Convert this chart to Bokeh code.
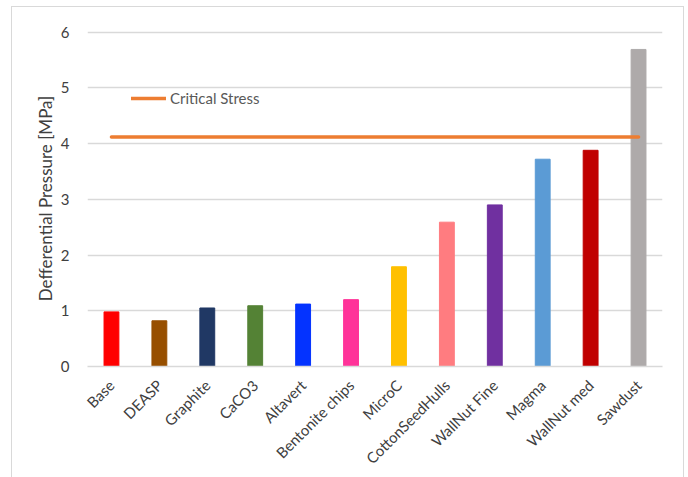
import math

from bokeh.embed import file_html
from bokeh.models import ColumnDataSource, Legend, LegendItem, Range1d
from bokeh.plotting import figure
from bokeh.resources import INLINE

# Differential pressure per additive
categories = ["Base", "DEASP", "Graphite", "CaCO3", "Altavert", "Bentonite chips",
              "MicroC", "CottonSeedHulls", "WallNut Fine", "Magma", "WallNut med", "Sawdust"]
pressure = [0.98, 0.82, 1.05, 1.09, 1.12, 1.20, 1.79, 2.59, 2.90, 3.72, 3.88, 5.69]
bar_colors = ["#FF0000", "#974F00", "#203864", "#548235", "#0433FF", "#FF3399",
              "#FFC000", "#FF7C80", "#7030A0", "#5B9BD5", "#C00000", "#AEAAAA"]
critical_stress = 4.12

FONT = "Lato"
TEXT = "#404040"
GRID = "#D9D9D9"

src = ColumnDataSource(dict(cat=categories, val=pressure, color=bar_colors))

p = figure(
    x_range=categories,
    y_range=Range1d(0, 6.03),
    width=671, height=470,
    output_backend="svg",
    toolbar_location=None,
    min_border_left=75, min_border_right=21,
    min_border_top=23, min_border_bottom=111,
)
p.margin = (7, 5, 0, 12)
p.styles = {"outline": "1.5px solid " + GRID}
p.outline_line_color = None
p.background_fill_color = "white"
p.border_fill_color = "white"

p.vbar(x="cat", top="val", width=0.31, color="color", source=src)

crit = p.line(x=[categories[0], categories[-1]], y=[critical_stress, critical_stress],
              line_color="#ED7D31", line_width=3.5, line_cap="round")

legend = Legend(items=[LegendItem(label="Critical Stress", renderers=[crit])],
                location=(44, 259), orientation="vertical")
legend.glyph_width = 35
legend.glyph_height = 16
legend.label_height = 16
legend.label_standoff = 4
legend.padding = 0
legend.margin = 0
legend.spacing = 0
legend.border_line_color = None
legend.background_fill_alpha = 0
legend.label_text_font = FONT
legend.label_text_font_size = "15px"
legend.label_text_color = "#595959"
p.add_layout(legend, "center")

# grid
p.xgrid.grid_line_color = None
p.ygrid.grid_line_color = GRID
p.ygrid.grid_line_width = 1.3
p.yaxis.ticker = [0, 1, 2, 3, 4, 5, 6]

# axes
for ax in (p.xaxis[0], p.yaxis[0]):
    ax.axis_line_color = None
    ax.major_tick_line_color = None
    ax.minor_tick_line_color = None
    ax.major_tick_out = 0
    ax.major_tick_in = 0
    ax.major_label_text_font = FONT
    ax.major_label_text_font_size = "15px"
    ax.major_label_text_color = TEXT

# baseline at zero
p.xaxis.axis_line_color = GRID
p.xaxis.axis_line_width = 1.3

p.yaxis.major_label_standoff = 18
p.yaxis.axis_label = "Defferential Pressure [MPa]"
p.yaxis.axis_label_text_font = FONT
p.yaxis.axis_label_text_font_size = "17px"
p.yaxis.axis_label_text_font_style = "normal"
p.yaxis.axis_label_text_color = TEXT
p.yaxis.axis_label_standoff = 2

p.xaxis.major_label_orientation = math.pi / 4
p.xaxis.major_label_standoff = 16

open("out.html", "w").write(file_html(p, INLINE))
